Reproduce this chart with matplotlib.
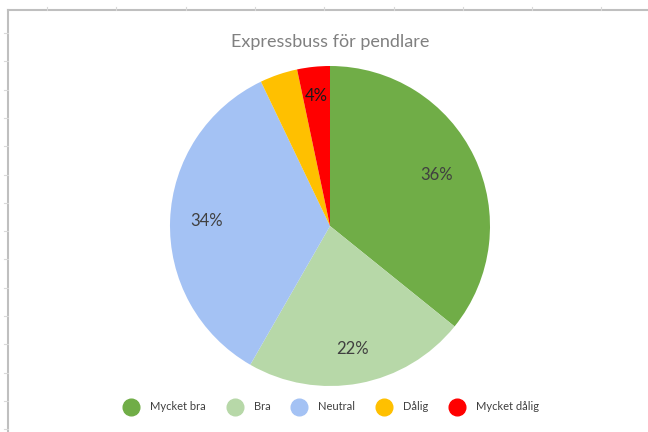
import numpy as np
import matplotlib
matplotlib.use("Agg")
import matplotlib.pyplot as plt
from matplotlib.lines import Line2D

categories = ["Mycket bra", "Bra", "Neutral", "Dålig", "Mycket dålig"]
values = [35.8, 22.5, 34.6, 3.8, 3.3]
value_labels = ["36%", "22%", "34%", "", "4%"]
colors = ["#70AD47", "#B7D8A8", "#A4C2F4", "#FFC000", "#FF0000"]
label_colors = ["#404040", "#404040", "#404040", "#404040", "#1a1a1a"]
title = "Expressbuss för pendlare"

plt.rcParams['font.family'] = ['Lato', 'DejaVu Sans']

W, H = 648, 432
fig = plt.figure(figsize=(W / 100, H / 100), dpi=100)
fig.patch.set_facecolor("white")

# chart-area border like the Excel screenshot
fig.add_artist(Line2D([8 / W, 8 / W], [0, 1 - 10 / H], color="#BFBFBF", lw=1.5, transform=fig.transFigure))
fig.add_artist(Line2D([8 / W, 1], [1 - 10 / H, 1 - 10 / H], color="#BFBFBF", lw=1.5, transform=fig.transFigure))
for yy in np.arange(33, 432, 28.3):
    fig.add_artist(Line2D([4 / W, 8 / W], [1 - yy / H, 1 - yy / H], color="#D9D9D9", lw=0.8, transform=fig.transFigure))
for xx in np.arange(47, 648, 69.3):
    fig.add_artist(Line2D([xx / W, xx / W], [1 - 10 / H, 1 - 7 / H], color="#D9D9D9", lw=0.8, transform=fig.transFigure))

cx, cy, r = 330, 226, 160
ax = fig.add_axes([(cx - r) / W, (H - cy - r) / H, 2 * r / W, 2 * r / H])
wedges, _ = ax.pie(values, colors=colors, startangle=90, counterclock=False,
                   wedgeprops=dict(linewidth=0))
ax.set_xlim(-1, 1)
ax.set_ylim(-1, 1)
ax.set_aspect("equal")
ax.axis("off")

dists = [0.74, 0.78, 0.77, 0.8, 0.82]
for w, lab, d, c in zip(wedges, value_labels, dists, label_colors):
    if not lab:
        continue
    ang = np.deg2rad((w.theta1 + w.theta2) / 2)
    ax.text(d * np.cos(ang), d * np.sin(ang), lab, ha="center", va="center",
            fontsize=12, color=c)

fig.text(cx / W, 1 - 42 / H, title, ha="center", va="center", fontsize=13, color="#808080")

handles = [Line2D([], [], marker="o", linestyle="none", markersize=12,
                  markerfacecolor=c, markeredgecolor=c) for c in colors]
fig.legend(handles, categories, loc="center", bbox_to_anchor=(331 / W, 1 - 407 / H),
           ncol=5, frameon=False, fontsize=8, handlelength=1.5, handletextpad=0.96,
           columnspacing=1.85, labelcolor="#404040")

fig.savefig("out.png", dpi=100)
